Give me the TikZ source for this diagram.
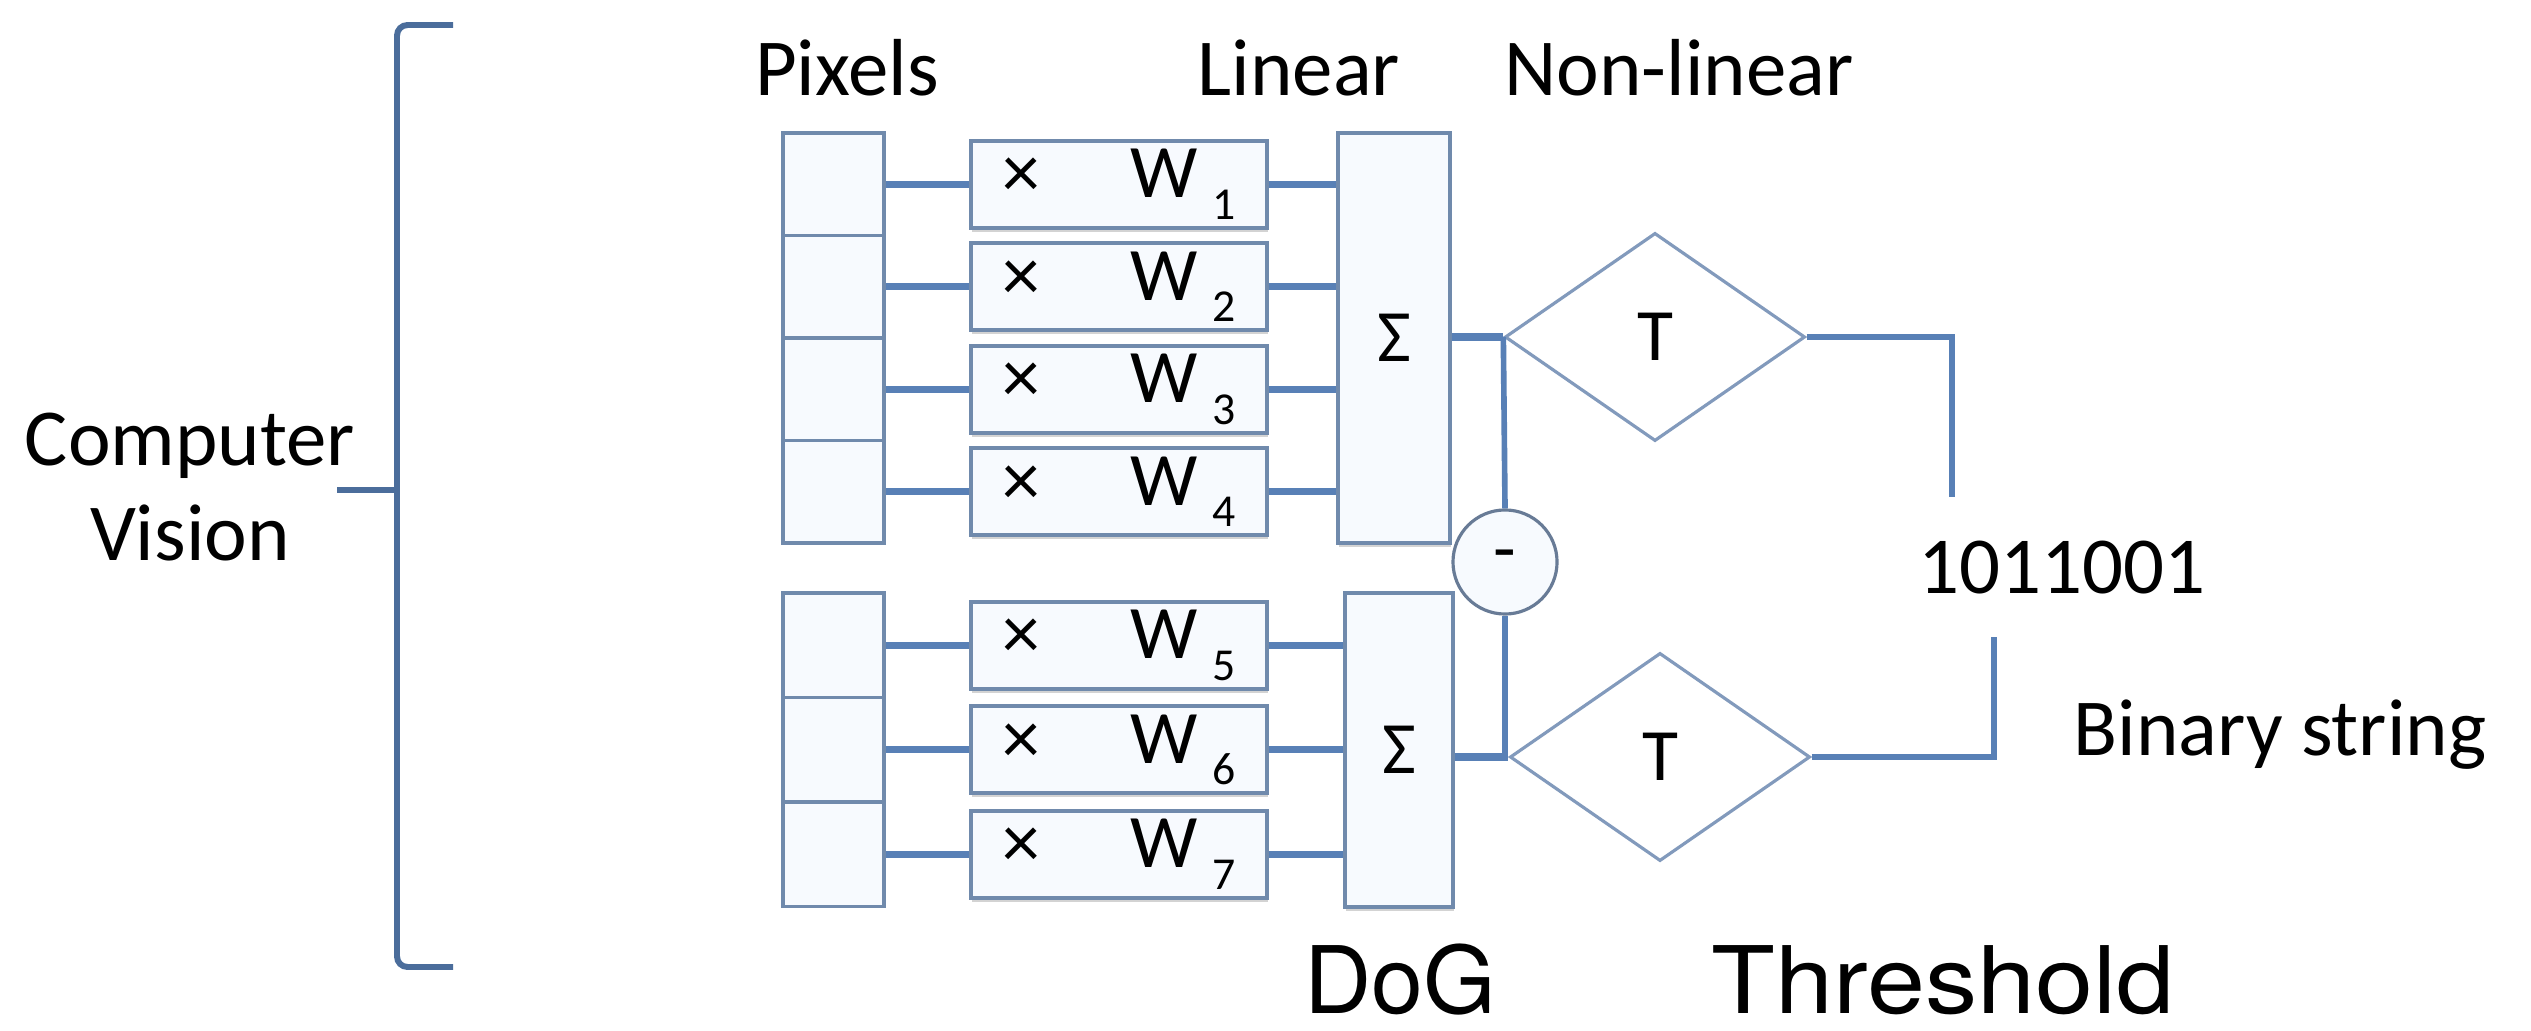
\documentclass[tikz,border=0pt]{standalone}
\usepackage{fontspec}
\setmainfont{Carlito}
\newfontfamily\helvfont{TeX Gyre Heros}
\usetikzlibrary{shapes.geometric,shadows}
\definecolor{wireblue}{RGB}{88,128,182}
\definecolor{edgeblue}{RGB}{112,138,172}
\definecolor{cellfill}{RGB}{247,250,254}
\definecolor{tipblue}{RGB}{130,154,188}
\newcommand{\wlabel}[1]{\makebox[2.95cm][l]{\hspace{0.315cm}×\hspace{0.9cm}W\hspace{0.15cm}\raisebox{-0.215cm}{\fontsize{13}{13}\selectfont #1}}}
\begin{document}
\begin{tikzpicture}[x=0.01cm, y=-0.01cm,
            txt/.style = {font=\fontsize{23}{27}\selectfont, inner sep=0pt},
            caption/.style = {font=\helvfont\fontsize{26.5}{30}\selectfont, inner sep=0pt},
            cell/.style = {draw=edgeblue, line width=1.1pt, fill=cellfill, minimum width=1.01cm, inner sep=0pt},
            weight/.style = {draw=edgeblue, line width=1.1pt, fill=cellfill, minimum width=2.95cm, minimum height=0.87cm, inner sep=0pt, font=\fontsize{21.5}{21.5}\selectfont, drop shadow={shadow xshift=0.3pt, shadow yshift=-1.2pt, opacity=0.35, fill=black!50}},
            sum/.style = {draw=edgeblue, line width=1.1pt, fill=cellfill, inner sep=0pt, font=\fontsize{21}{21}\selectfont, drop shadow={shadow xshift=0.3pt, shadow yshift=-1.2pt, opacity=0.35, fill=black!50}},
            thresh/.style = {diamond, draw=tipblue, line width=0.9pt, fill=white, minimum width=3cm, minimum height=2.08cm, inner sep=0pt, font=\fontsize{21}{21}\selectfont},
            diff/.style = {circle, draw=tipblue!80!black, line width=0.9pt, fill=cellfill, minimum size=1.04cm, inner sep=0pt, font=\fontsize{21}{21}\selectfont},
            wire/.style = {draw=wireblue, line width=2pt},
            outwire/.style = {draw=wireblue, line width=1.6pt},
            bracket/.style = {draw=wireblue!85!black, line width=1.7pt, rounded corners=3pt}]

            \useasboundingbox (0,0) rectangle (2531,1031);

            \draw[bracket] (453,25) -- (397,25) -- (397,967) -- (453,967);
            \draw[bracket] (397,490) -- (337,490);
            \node[txt, align=center] (cv) at (190,487) {Computer\\Vision};

            \node[txt] (pix) at (847,68)  {Pixels};
            \node[txt] (lin) at (1299,68) {Linear};
            \node[txt] (nonlin) at (1679,68) {Non-linear};

            \node[sum, minimum width=1.12cm, minimum height=4.1cm]  (s1) at (1394,338) {Σ};
            \node[sum, minimum width=1.08cm, minimum height=3.14cm] (s2) at (1399,750) {Σ};

            \foreach \i/\y/\h in {1/184.25/1.025cm, 2/286.75/1.025cm, 3/389.25/1.025cm, 4/491.75/1.025cm,
                                  5/645.25/1.045cm, 6/749.75/1.045cm, 7/854.25/1.045cm} {
                \node[cell, minimum height=\h] (p\i) at (833.5,\y) {};
                \node[weight] (w\i) at (1119,\y) {\wlabel{\i}};
                \draw[wire] (p\i.east) -- (w\i.west);
            }
            \foreach \i in {1,...,4}
                \draw[wire] (w\i.east) -- (w\i.east -| s1.west);
            \foreach \i in {5,6,7}
                \draw[wire] (w\i.east) -- (w\i.east -| s2.west);

            \node[thresh] (d1) at (1655,337) {T};
            \node[thresh] (d2) at (1660,757) {T};
            \node[diff]   (m)  at (1505,562) {-};

            \draw[wire] (s1.east |- d1.west) -- (d1.west);
            \draw[wire] (s2.east |- d2.west) -- (d2.west);
            \draw[outwire] (d1.west) -- (m.north);
            \draw[outwire] (m.south) -- (m.south |- d2.west);

            \coordinate (b1) at (1952,497);
            \coordinate (b2) at (1994,637);
            \draw[outwire] (d1.east) -| (b1);
            \draw[outwire] (d2.east) -| (b2);

            \node[txt] (bits) at (2062,568) {1011001};
            \node[txt] (bin)  at (2280,735) {Binary string};

            \node[caption] (dog) at (1400,980) {DoG};
            \node[caption] (thr) at (1943,980) {\scalebox{1.12}[1]{Threshold}};
        \end{tikzpicture}
\end{document}
